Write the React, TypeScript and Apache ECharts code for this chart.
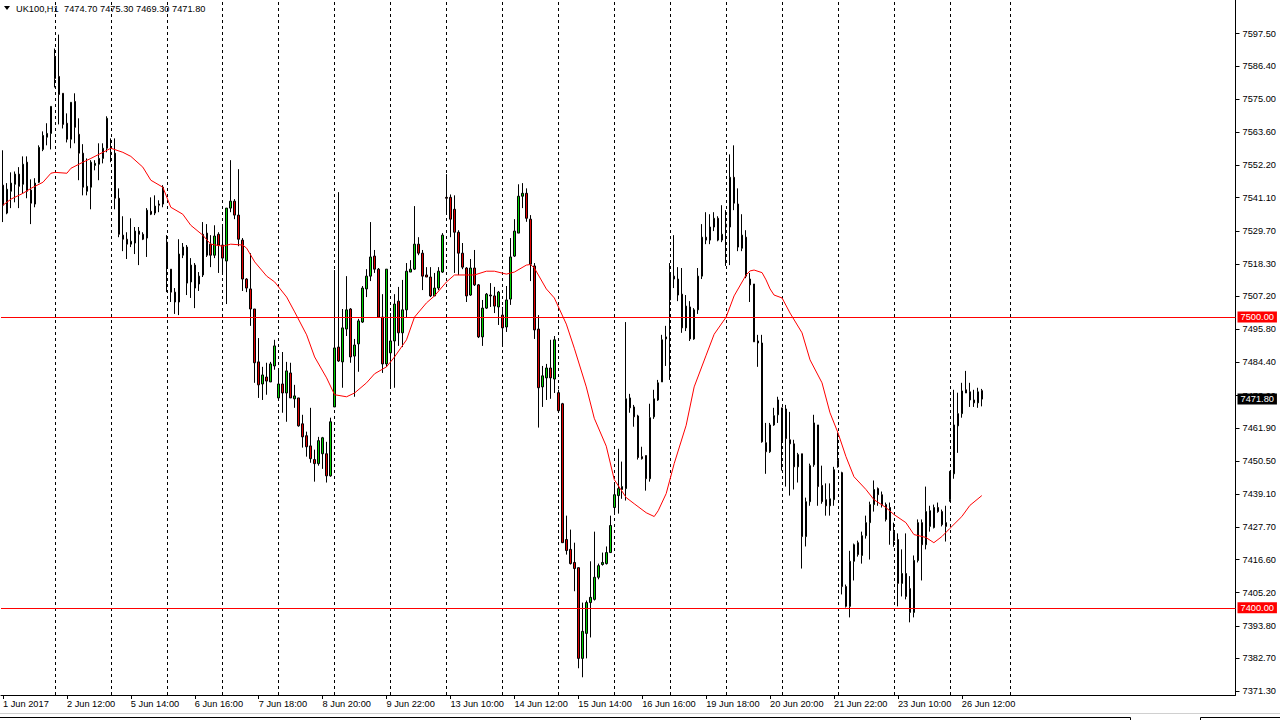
import React, { useEffect, useRef } from 'react';
import * as echarts from 'echarts';

// ---------- axis / calendar data ----------
const tradingDays = ['1 Jun', '2 Jun', '5 Jun', '6 Jun', '7 Jun', '8 Jun', '9 Jun', '12 Jun', '13 Jun', '14 Jun', '15 Jun', '16 Jun', '19 Jun', '20 Jun', '21 Jun', '22 Jun', '23 Jun', '26 Jun'];
const totalSlots = 309; // visible hourly slots incl. empty space on the right

const tickBars = [0, 16, 32, 48, 64, 80, 96, 112, 128, 144, 160, 176, 192, 208, 224, 240];
const tickLabels = ['1 Jun 2017', '2 Jun 12:00', '5 Jun 14:00', '6 Jun 16:00', '7 Jun 18:00', '8 Jun 20:00', '9 Jun 22:00', '13 Jun 10:00', '14 Jun 12:00', '15 Jun 14:00', '16 Jun 16:00', '19 Jun 18:00', '20 Jun 20:00', '21 Jun 22:00', '23 Jun 10:00', '26 Jun 12:00'];

// period separators (first bar of each day)
const separatorBars = [13, 27, 41, 55, 69, 83, 97, 111, 125, 139, 153, 167, 181, 195, 209, 223, 237, 252];

const yTickValues = [7597.5, 7586.4, 7575.0, 7563.6, 7552.2, 7541.1, 7529.7, 7518.3, 7507.2, 7495.8, 7484.4, 7473.0, 7461.9, 7450.5, 7439.1, 7427.7, 7416.6, 7405.2, 7393.8, 7382.7, 7371.3];
const Y_MIN = 7370.0;
const Y_MAX = 7609.1;

const levelLines = [7500.0, 7400.0];
const lastPrice = 7471.8;

// ---------- OHLC (UK100, H1) ----------
const opens = [
  7545.4, 7535.8, 7543.3, 7545.7, 7549.2, 7545.7, 7553.3, 7543.7, 7538.9, 7546.4,
  7557.7, 7561.9, 7563.2, 7589.7, 7582.8, 7577.0, 7566.7, 7561.2, 7574.2, 7562.9,
  7556.4, 7543.3, 7544.7, 7552.2, 7552.6, 7554.6, 7558.1, 7556.7, 7556.4, 7540.9,
  7528.2, 7526.8, 7525.1, 7525.5, 7529.6, 7528.5, 7527.2, 7536.4, 7535.8, 7538.9,
  7538.9, 7525.8, 7516.5, 7508.6, 7505.2, 7521.3, 7524.1, 7512.1, 7517.9, 7511.4,
  7514.5, 7528.9, 7525.1, 7521.3, 7528.5, 7524.8, 7519.3, 7537.5, 7539.9, 7535.1,
  7526.5, 7513.1, 7509.7, 7502.8, 7484.6, 7477.0, 7479.4, 7477.7, 7483.2, 7472.2,
  7477.0, 7473.9, 7480.8, 7471.9, 7472.2, 7463.3, 7459.2, 7455.7, 7451.0, 7449.6,
  7453.0, 7453.0, 7445.4, 7469.1, 7489.7, 7484.6, 7495.9, 7502.8, 7486.6, 7490.8,
  7498.3, 7509.7, 7514.1, 7521.0, 7516.5, 7500.0, 7483.9, 7487.7, 7491.8, 7505.5,
  7494.6, 7502.5, 7515.5, 7516.5, 7525.1, 7522.0, 7514.5, 7513.8, 7507.3, 7510.0,
  7515.5, 7541.2, 7541.2, 7537.1, 7529.2, 7522.0, 7516.9, 7507.6, 7516.9, 7511.1,
  7493.2, 7503.1, 7507.6, 7507.3, 7503.5, 7500.7, 7496.6, 7506.2, 7521.0, 7528.9,
  7541.6, 7542.6, 7533.7, 7517.6, 7495.9, 7476.0, 7479.1, 7482.5, 7478.7, 7474.0,
  7470.2, 7423.5, 7420.1, 7415.6, 7413.8, 7382.6, 7391.2, 7401.8, 7402.9, 7410.5,
  7414.9, 7415.2, 7419.0, 7434.5, 7438.6, 7440.7, 7441.0, 7472.2, 7469.1, 7466.0,
  7452.0, 7452.4, 7444.4, 7465.7, 7471.5, 7477.7, 7493.2, 7505.9, 7514.1, 7513.1,
  7507.9, 7496.3, 7503.5, 7492.5, 7502.5, 7514.1, 7527.5, 7526.5, 7531.0, 7534.0,
  7526.5, 7532.0, 7531.0, 7548.1, 7538.9, 7523.7, 7527.5, 7513.1, 7511.4, 7491.8,
  7491.1, 7456.8, 7453.7, 7462.9, 7466.4, 7468.8, 7468.4, 7457.8, 7456.4, 7448.5,
  7453.0, 7424.5, 7436.5, 7449.2, 7462.9, 7442.1, 7437.2, 7435.1, 7437.2, 7450.6,
  7446.5, 7407.3, 7400.5, 7416.0, 7422.4, 7418.0, 7424.8, 7429.3, 7435.5, 7441.0,
  7438.9, 7435.5, 7434.5, 7426.2, 7423.5, 7408.4, 7411.8, 7406.6, 7398.4, 7416.3,
  7429.3, 7421.7, 7428.0, 7427.6, 7434.5, 7433.1, 7429.3, 7437.2, 7446.1, 7462.6,
  7466.8, 7475.0, 7474.3, 7471.5, 7470.5, 7474.7,
];
const highs = [
  7557.4, 7546.1, 7549.8, 7550.1, 7551.6, 7555.3, 7555.3, 7547.4, 7547.8, 7559.1,
  7563.9, 7566.7, 7572.5, 7592.4, 7597.2, 7577.0, 7570.1, 7573.9, 7577.0, 7568.4,
  7559.5, 7554.6, 7554.0, 7554.0, 7559.8, 7559.8, 7569.1, 7561.5, 7561.5, 7544.3,
  7534.7, 7529.2, 7534.0, 7531.0, 7531.0, 7529.2, 7537.5, 7541.2, 7541.9, 7540.2,
  7545.4, 7528.2, 7516.5, 7510.0, 7526.8, 7525.5, 7524.8, 7520.3, 7518.6, 7515.5,
  7532.7, 7532.0, 7528.2, 7531.6, 7529.2, 7531.6, 7537.5, 7554.0, 7540.6, 7550.9,
  7527.2, 7513.4, 7522.0, 7502.8, 7492.8, 7482.9, 7484.3, 7484.6, 7492.2, 7481.9,
  7488.0, 7484.6, 7484.3, 7476.7, 7472.2, 7466.4, 7460.6, 7468.8, 7454.4, 7458.8,
  7458.8, 7457.1, 7465.4, 7516.2, 7543.0, 7502.8, 7514.1, 7503.1, 7492.5, 7499.4,
  7510.7, 7516.5, 7532.7, 7523.1, 7516.9, 7507.9, 7516.5, 7501.4, 7507.9, 7510.4,
  7512.8, 7518.6, 7519.6, 7538.2, 7527.5, 7523.1, 7517.2, 7517.2, 7515.2, 7517.2,
  7528.9, 7549.2, 7542.2, 7541.9, 7529.9, 7525.5, 7517.2, 7520.0, 7523.1, 7511.4,
  7505.9, 7508.3, 7511.7, 7510.4, 7509.0, 7503.5, 7510.7, 7527.2, 7533.7, 7545.7,
  7546.1, 7544.3, 7535.1, 7518.6, 7500.7, 7483.2, 7483.9, 7492.2, 7493.5, 7475.0,
  7470.5, 7431.7, 7426.9, 7422.4, 7413.8, 7401.8, 7402.5, 7416.0, 7426.2, 7415.2,
  7419.0, 7421.1, 7431.7, 7442.4, 7454.7, 7450.3, 7498.3, 7473.6, 7469.8, 7466.4,
  7455.4, 7452.4, 7470.2, 7475.0, 7478.4, 7493.9, 7497.0, 7518.6, 7528.2, 7517.2,
  7516.9, 7507.6, 7505.5, 7503.1, 7516.9, 7532.0, 7536.1, 7535.4, 7536.1, 7534.7,
  7538.5, 7536.8, 7556.0, 7559.1, 7544.3, 7535.4, 7529.9, 7515.2, 7511.4, 7493.9,
  7493.9, 7463.6, 7463.6, 7468.8, 7472.6, 7468.8, 7469.8, 7467.4, 7457.8, 7453.3,
  7453.0, 7437.9, 7449.6, 7466.4, 7462.9, 7448.9, 7442.8, 7442.8, 7448.5, 7460.3,
  7446.8, 7408.0, 7419.6, 7422.1, 7423.1, 7426.2, 7431.7, 7436.5, 7443.8, 7441.4,
  7440.0, 7436.2, 7436.2, 7429.3, 7425.6, 7420.1, 7425.6, 7410.9, 7418.0, 7430.4,
  7430.4, 7441.7, 7435.1, 7435.5, 7436.2, 7433.8, 7435.1, 7447.1, 7475.0, 7474.0,
  7477.4, 7481.5, 7477.4, 7475.0, 7475.7, 7475.3,
];
const lows = [
  7532.7, 7535.4, 7537.5, 7539.5, 7537.5, 7542.6, 7540.9, 7532.0, 7537.8, 7546.1,
  7557.1, 7559.1, 7557.7, 7579.0, 7566.3, 7564.9, 7560.1, 7558.1, 7559.8, 7547.1,
  7541.9, 7541.9, 7537.1, 7550.5, 7547.1, 7552.9, 7556.7, 7553.3, 7537.1, 7527.5,
  7522.7, 7520.0, 7524.1, 7521.7, 7517.9, 7526.5, 7520.7, 7535.1, 7535.1, 7536.1,
  7537.8, 7508.6, 7505.2, 7501.1, 7500.7, 7520.3, 7507.6, 7506.6, 7503.1, 7509.0,
  7513.8, 7520.7, 7517.2, 7520.3, 7515.2, 7515.2, 7504.5, 7536.1, 7533.7, 7524.4,
  7509.0, 7508.6, 7497.0, 7477.4, 7472.2, 7471.5, 7473.3, 7477.7, 7481.9, 7471.5,
  7467.1, 7464.0, 7472.2, 7468.8, 7462.3, 7455.1, 7452.0, 7449.9, 7443.4, 7448.9,
  7447.8, 7443.1, 7445.1, 7469.1, 7484.6, 7475.7, 7493.5, 7484.3, 7472.6, 7481.2,
  7498.0, 7506.9, 7512.4, 7515.2, 7500.0, 7480.8, 7482.9, 7475.7, 7475.7, 7490.1,
  7489.7, 7500.0, 7515.5, 7516.2, 7521.3, 7509.3, 7513.8, 7506.9, 7507.3, 7509.3,
  7515.2, 7536.1, 7527.5, 7515.2, 7514.5, 7516.5, 7505.2, 7507.3, 7510.7, 7492.8,
  7490.1, 7502.8, 7503.5, 7501.4, 7497.3, 7490.1, 7494.9, 7504.2, 7520.7, 7528.9,
  7537.5, 7532.8, 7512.4, 7492.5, 7462.0, 7469.1, 7471.5, 7471.9, 7473.9, 7467.4,
  7422.4, 7418.3, 7414.9, 7405.7, 7379.2, 7376.1, 7382.6, 7389.8, 7402.5, 7409.8,
  7414.5, 7414.9, 7419.0, 7432.7, 7432.4, 7437.5, 7436.9, 7467.1, 7462.3, 7451.0,
  7451.0, 7440.3, 7443.4, 7465.0, 7471.2, 7477.7, 7483.2, 7478.4, 7510.0, 7505.5,
  7494.6, 7495.2, 7491.8, 7492.2, 7501.1, 7513.1, 7525.1, 7525.1, 7529.6, 7526.1,
  7525.8, 7517.6, 7517.9, 7536.8, 7522.7, 7522.7, 7513.4, 7505.2, 7491.5, 7482.9,
  7456.8, 7446.1, 7453.3, 7462.6, 7463.6, 7447.2, 7441.7, 7438.6, 7440.7, 7443.1,
  7413.5, 7421.1, 7435.1, 7448.5, 7435.1, 7435.8, 7431.7, 7431.7, 7435.1, 7448.2,
  7404.6, 7400.1, 7396.7, 7409.4, 7417.6, 7415.2, 7423.8, 7416.6, 7433.1, 7435.1,
  7434.5, 7429.7, 7421.7, 7421.0, 7400.5, 7403.9, 7402.9, 7395.0, 7396.7, 7415.6,
  7409.4, 7420.1, 7426.2, 7427.3, 7432.7, 7428.0, 7422.8, 7436.5, 7444.4, 7453.3,
  7465.4, 7473.9, 7469.1, 7469.1, 7468.8, 7469.3,
];
const closes = [
  7538.5, 7544.0, 7546.1, 7549.2, 7545.0, 7552.6, 7543.3, 7539.2, 7546.1, 7558.4,
  7562.5, 7563.2, 7572.5, 7582.1, 7576.6, 7566.3, 7561.2, 7573.9, 7565.3, 7556.4,
  7544.7, 7545.0, 7553.3, 7552.9, 7554.6, 7558.1, 7568.4, 7556.0, 7540.9, 7528.5,
  7526.8, 7525.1, 7526.1, 7529.6, 7528.5, 7526.8, 7536.8, 7535.4, 7538.2, 7538.5,
  7544.7, 7516.9, 7508.6, 7505.2, 7521.7, 7524.1, 7511.7, 7517.9, 7510.0, 7514.1,
  7528.5, 7521.3, 7521.3, 7527.9, 7524.8, 7520.3, 7537.5, 7539.9, 7535.1, 7526.8,
  7513.1, 7510.0, 7502.8, 7484.3, 7476.7, 7480.1, 7478.0, 7483.9, 7490.1, 7477.0,
  7473.9, 7481.5, 7472.2, 7472.9, 7462.6, 7458.8, 7455.4, 7451.3, 7449.6, 7457.5,
  7458.5, 7445.4, 7464.0, 7489.4, 7484.9, 7496.3, 7502.5, 7486.3, 7490.4, 7498.7,
  7510.0, 7514.1, 7520.7, 7516.5, 7500.0, 7483.9, 7516.5, 7491.8, 7504.5, 7494.6,
  7502.5, 7515.8, 7516.5, 7525.1, 7522.0, 7514.1, 7513.8, 7507.3, 7510.0, 7515.8,
  7528.2, 7540.9, 7533.7, 7529.2, 7522.0, 7517.2, 7507.3, 7516.9, 7511.1, 7493.2,
  7503.1, 7507.9, 7507.3, 7503.8, 7508.6, 7496.3, 7505.9, 7520.7, 7529.6, 7541.6,
  7542.6, 7534.0, 7518.2, 7495.6, 7475.7, 7479.8, 7482.5, 7479.1, 7492.2, 7467.8,
  7422.4, 7419.7, 7415.2, 7413.5, 7382.6, 7391.9, 7401.8, 7403.6, 7410.5, 7414.5,
  7415.6, 7419.0, 7428.3, 7438.9, 7441.0, 7441.7, 7471.9, 7468.8, 7465.7, 7451.7,
  7451.3, 7444.4, 7465.4, 7471.9, 7477.4, 7492.2, 7492.5, 7515.2, 7513.1, 7507.6,
  7496.3, 7503.8, 7492.5, 7502.5, 7514.1, 7527.5, 7526.5, 7531.0, 7534.0, 7526.5,
  7528.5, 7531.0, 7548.1, 7539.2, 7524.1, 7528.2, 7514.1, 7511.1, 7491.5, 7491.1,
  7457.1, 7453.7, 7462.9, 7466.1, 7471.5, 7457.1, 7458.2, 7456.4, 7448.5, 7452.7,
  7424.5, 7436.5, 7448.9, 7463.6, 7441.7, 7436.5, 7435.1, 7437.5, 7447.5, 7448.5,
  7407.3, 7400.5, 7416.0, 7421.7, 7418.3, 7424.8, 7429.3, 7435.5, 7440.7, 7438.9,
  7435.5, 7430.4, 7426.6, 7423.1, 7408.4, 7411.8, 7403.9, 7398.4, 7416.3, 7429.3,
  7421.7, 7433.1, 7433.4, 7434.5, 7433.1, 7428.6, 7428.0, 7446.8, 7462.9, 7466.8,
  7474.6, 7473.9, 7471.5, 7470.5, 7474.3, 7471.8,
];

// ---------- moving average (red line), read at these bars ----------
const maBars = [0, 2, 5, 7, 10, 12, 13, 16, 17, 20, 22, 25, 27, 30, 32, 35, 37, 40, 42, 45, 47, 50, 52, 55, 57, 60, 61, 63, 66, 68, 71, 73, 76, 78, 81, 83, 86, 88, 91, 93, 96, 98, 101, 103, 106, 108, 111, 113, 116, 118, 121, 123, 126, 128, 131, 132, 133, 136, 138, 141, 143, 146, 148, 151, 153, 156, 158, 161, 163, 164, 166, 168, 171, 173, 176, 178, 181, 183, 186, 187, 188, 190, 191, 192, 193, 195, 197, 200, 202, 205, 207, 209, 211, 213, 216, 218, 221, 223, 226, 228, 231, 233, 235, 237, 240, 242, 245];
const maValues = [7538.5, 7540.6, 7542.6, 7544.3, 7546.4, 7549.5, 7549.8, 7549.5, 7551.2, 7553.3, 7554.6, 7556.7, 7558.1, 7556.7, 7555.3, 7551.6, 7547.1, 7544.7, 7537.8, 7535.4, 7531.6, 7528.2, 7525.1, 7524.4, 7525.1, 7524.8, 7523.7, 7519.0, 7514.1, 7512.1, 7506.9, 7501.8, 7493.9, 7486.3, 7479.1, 7473.3, 7472.6, 7473.9, 7477.4, 7480.5, 7482.9, 7486.3, 7492.2, 7500.0, 7504.9, 7507.3, 7512.1, 7514.5, 7514.5, 7514.5, 7515.8, 7515.8, 7514.8, 7515.5, 7517.9, 7518.1, 7516.9, 7509.7, 7506.6, 7497.6, 7489.3, 7476.0, 7465.2, 7455.6, 7444.1, 7437.9, 7435.8, 7432.7, 7431.4, 7433.4, 7439.3, 7449.6, 7462.8, 7476.0, 7486.9, 7494.1, 7500.0, 7507.3, 7514.5, 7515.9, 7516.2, 7515.3, 7512.8, 7509.7, 7507.6, 7506.6, 7501.4, 7494.6, 7485.3, 7477.4, 7467.1, 7460.2, 7452.0, 7445.1, 7440.7, 7437.2, 7434.5, 7432.1, 7429.3, 7425.2, 7424.2, 7422.4, 7424.5, 7427.3, 7431.4, 7435.2, 7438.6];

const headerSymbol = 'UK100,H1';
const headerQuote = '7474.70 7475.30 7469.30 7471.80';

const FONT = "'Liberation Sans', Arial, sans-serif";
const FS = 9.25;

export default function App() {
  const ref = useRef<HTMLDivElement>(null);

  useEffect(() => {
    document.body.style.margin = '0';
    if (!ref.current) return;
    const chart = echarts.init(ref.current, undefined, { renderer: 'svg' });

    const categories: string[] = [];
    tradingDays.forEach((d, k) => {
      for (let h = k === 0 ? 10 : 9; h <= 22; h++) categories.push(`${d} ${h}:00`);
    });
    while (categories.length < totalSlots) categories.push('');
    categories.length = totalSlots;

    const candleData = opens.map((o, i) => [o, closes[i], lows[i], highs[i]]);
    const maData: (number | null)[] = categories.map(() => null);
    maBars.forEach((b, k) => { maData[b] = maValues[k]; });
    const emptyData = categories.map(() => null);

    const labelBox = {
      show: true, position: 'end', distance: 2, color: '#ffffff', fontSize: FS, fontFamily: FONT,
      padding: [1, 3, 0, 3], lineHeight: 10,
    };

    const option: any = {
      animation: false,
      backgroundColor: '#ffffff',
      textStyle: { fontFamily: FONT },
      grid: { left: -0.5, right: 1280 - 1235.5, top: 0, bottom: 25, containLabel: false },
      xAxis: {
        type: 'category', data: categories, boundaryGap: true,
        axisLine: { show: true, onZero: false, lineStyle: { color: '#000', width: 1 } },
        axisTick: { show: true, alignWithLabel: true, length: 4, interval: (i: number) => tickBars.includes(i), lineStyle: { color: '#000' } },
        axisLabel: {
          show: true, interval: (i: number) => tickBars.includes(i),
          formatter: (_v: string, i: number) => { const k = tickBars.indexOf(i); return k >= 0 ? tickLabels[k] : ''; },
          align: 'left', margin: 4, color: '#000', fontSize: FS, fontFamily: FONT,
        },
        splitLine: { show: false },
      },
      yAxis: {
        type: 'value', position: 'right', min: Y_MIN, max: Y_MAX, scale: true,
        axisLine: { show: true, lineStyle: { color: '#000', width: 1 } },
        axisTick: { show: true, length: 4, customValues: yTickValues, lineStyle: { color: '#000' } },
        axisLabel: { customValues: yTickValues, formatter: (v: number) => v.toFixed(2), margin: 7, color: '#000', fontSize: FS, fontFamily: FONT },
        splitLine: { show: false },
      },
      series: [
        {
          type: 'line', data: emptyData, silent: true, showSymbol: false,
          markLine: {
            silent: true, symbol: 'none', z: 1, label: { show: false },
            lineStyle: { color: '#000', type: [3, 3], width: 1 },
            data: separatorBars.map((b) => ({ xAxis: b })),
          },
        },
        {
          type: 'candlestick', data: candleData, barWidth: 2, z: 2,
          itemStyle: { color: '#00d200', color0: '#e00000', borderColor: '#000', borderColor0: '#000', borderWidth: 1 },
        },
        {
          type: 'line', data: maData, connectNulls: true, showSymbol: false, smooth: false, z: 3,
          lineStyle: { color: '#ff0000', width: 1 },
          markLine: {
            silent: true, symbol: 'none', z: 6,
            data: [
              ...levelLines.map((v) => ({
                yAxis: v, lineStyle: { color: '#ff0000', width: 1, type: 'solid' },
                label: { ...labelBox, backgroundColor: '#ff0000', formatter: v.toFixed(2) },
              })),
              {
                yAxis: lastPrice, lineStyle: { color: 'rgba(0,0,0,0)', width: 1, type: 'solid' },
                label: { ...labelBox, backgroundColor: '#000000', formatter: lastPrice.toFixed(2) },
              },
            ],
          },
        },
      ],
      graphic: [
        { type: 'polygon', shape: { points: [[4, 6], [10, 6], [7, 10]] }, style: { fill: '#000' } },
        { type: 'text', x: 16, y: 8.5, style: { text: headerSymbol, fill: '#000', fontSize: FS, fontFamily: FONT, verticalAlign: 'middle' } },
        { type: 'text', x: 64, y: 8.5, style: { text: headerQuote, fill: '#000', fontSize: FS, fontFamily: FONT, verticalAlign: 'middle' } },
        { type: 'line', shape: { x1: 0, y1: 713.5, x2: 1280, y2: 713.5 }, style: { stroke: '#d0d0d0', lineWidth: 1 } },
        { type: 'line', shape: { x1: 0, y1: 717.5, x2: 1130.5, y2: 717.5 }, style: { stroke: '#000', lineWidth: 1 } },
        { type: 'line', shape: { x1: 1130.5, y1: 717.5, x2: 1130.5, y2: 720 }, style: { stroke: '#000', lineWidth: 1 } },
        { type: 'line', shape: { x1: 1200.5, y1: 717.5, x2: 1280, y2: 717.5 }, style: { stroke: '#000', lineWidth: 1 } },
        { type: 'line', shape: { x1: 1200.5, y1: 717.5, x2: 1200.5, y2: 720 }, style: { stroke: '#000', lineWidth: 1 } },
      ],
    };

    chart.setOption(option);
    return () => chart.dispose();
  }, []);

  return <div ref={ref} style={{ position: 'absolute', left: 0, top: 0, width: 1280, height: 720, background: '#fff' }} />;
}
